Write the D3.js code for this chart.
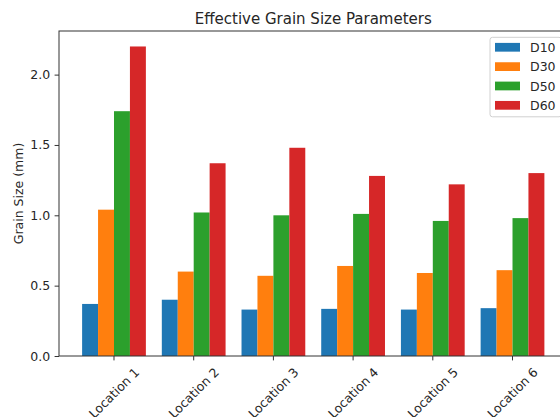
<!DOCTYPE html>
<html>
<head>
<meta charset="utf-8">
<script src="https://cdn.jsdelivr.net/npm/d3@7"></script>
<style>
  body { margin: 0; background: #fff; }
  text { font-family: "DejaVu Sans", sans-serif; fill: #262626; }
</style>
</head>
<body>
<script>
// data
var locations = ['Location 1', 'Location 2', 'Location 3', 'Location 4', 'Location 5', 'Location 6'];
var seriesNames = ['D10', 'D30', 'D50', 'D60'];
var d10 = [0.37, 0.40, 0.33, 0.335, 0.33, 0.34];
var d30 = [1.04, 0.60, 0.57, 0.64, 0.59, 0.61];
var d50 = [1.74, 1.02, 1.00, 1.01, 0.96, 0.98];
var d60 = [2.20, 1.37, 1.48, 1.28, 1.22, 1.30];
var yTicks = [0, 0.5, 1.0, 1.5, 2.0];

var seriesValues = [d10, d30, d50, d60];
var colors = ['#1f77b4', '#ff7f0e', '#2ca02c', '#d62728'];

var svgWidth = 560, svgHeight = 417;
// plot box (right edge runs past the window, as in the reference)
var plotLeft = 59, plotRight = 567.5, plotTop = 31, plotBottom = 356;
var fontSize = 12.5;

var svg = d3.select('body')
    .append('svg')
    .attr('width', svgWidth)
    .attr('height', svgHeight);

// scales
var yMax = d3.max(d60) * 1.05;
var yScale = d3.scaleLinear()
    .domain([0, yMax])
    .range([plotBottom, plotTop]);

var x0 = d3.scaleBand()
    .domain(locations)
    .range([plotLeft, plotRight])
    .paddingInner(0.2)
    .paddingOuter(0.29);

var x1 = d3.scaleBand()
    .domain(seriesNames)
    .range([0, x0.bandwidth()]);

// bars
var rows = locations.map((loc, i) => {
    return seriesNames.map((s, j) => ({ loc: loc, key: s, value: seriesValues[j][i], color: colors[j] }));
});

svg.append('g')
    .selectAll('g')
    .data(rows)
    .enter()
    .append('g')
    .attr('transform', d => `translate(${x0(d[0].loc)}, 0)`)
    .selectAll('rect')
    .data(d => d)
    .enter()
    .append('rect')
    .attr('x', d => x1(d.key))
    .attr('y', d => yScale(d.value))
    .attr('width', x1.bandwidth())
    .attr('height', d => yScale(0) - yScale(d.value))
    .attr('fill', d => d.color);

// axes
var yAxis = d3.axisLeft(yScale)
    .tickValues(yTicks)
    .tickFormat(d3.format('.1f'))
    .tickSize(4.4)
    .tickPadding(4.4);

var gy = svg.append('g')
    .attr('transform', `translate(${plotLeft}, 0)`)
    .call(yAxis);
gy.select('.domain').remove();
gy.selectAll('line').attr('stroke', '#333');
gy.selectAll('text')
    .style('font-size', fontSize + 'px')
    .attr('fill', '#262626')
    .attr('font-family', 'DejaVu Sans');

var xAxis = d3.axisBottom(x0).tickSize(4.4).tickFormat('');
var gx = svg.append('g')
    .attr('transform', `translate(0, ${plotBottom})`)
    .call(xAxis);
gx.select('.domain').remove();
gx.selectAll('line').attr('stroke', '#333');

// rotated x labels, bbox centred on tick, top just below tick
var labelTop = plotBottom + 4.4 + 4.4;
var xl = svg.append('g');
locations.forEach(loc => {
    var t = xl.append('text')
        .text(loc)
        .style('font-size', fontSize + 'px')
        .attr('text-anchor', 'middle')
        .attr('dominant-baseline', 'central');
    var w = t.node().getComputedTextLength();
    var h = fontSize * 1.17;
    var half = (w + h) / (2 * Math.SQRT2);
    var cx = x0(loc) + x0.bandwidth() / 2;
    var cy = labelTop + half;
    t.attr('transform', `translate(${cx}, ${cy}) rotate(-45)`);
});

// frame
svg.append('rect')
    .attr('x', plotLeft)
    .attr('y', plotTop)
    .attr('width', plotRight - plotLeft)
    .attr('height', plotBottom - plotTop)
    .attr('fill', 'none')
    .attr('stroke', '#333')
    .attr('stroke-width', 1);

// title and y label
svg.append('text')
    .attr('x', (plotLeft + plotRight) / 2)
    .attr('y', 24)
    .attr('text-anchor', 'middle')
    .style('font-size', '15px')
    .text('Effective Grain Size Parameters');

svg.append('text')
    .attr('transform', `translate(23, ${(plotTop + plotBottom) / 2}) rotate(-90)`)
    .attr('text-anchor', 'middle')
    .style('font-size', fontSize + 'px')
    .text('Grain Size (mm)');

// legend
var legend = svg.append('g').attr('transform', 'translate(490, 37.3)');
legend.append('rect')
    .attr('width', 71.5)
    .attr('height', 79.5)
    .attr('rx', 2.5)
    .attr('fill', 'white')
    .attr('fill-opacity', 0.8)
    .attr('stroke', '#d0d0d0')
    .attr('stroke-width', 1);

var item = legend.selectAll('.item')
    .data(seriesNames)
    .enter()
    .append('g')
    .attr('class', 'item')
    .attr('transform', (d, i) => `translate(0, ${10 + i * 19.35})`);

item.append('rect')
    .attr('x', 5)
    .attr('y', -4.4)
    .attr('width', 25)
    .attr('height', 8.75)
    .attr('fill', (d, i) => colors[i]);

item.append('text')
    .attr('x', 40)
    .attr('dominant-baseline', 'central')
    .style('font-size', fontSize + 'px')
    .text(d => d);
</script>
</body>
</html>
